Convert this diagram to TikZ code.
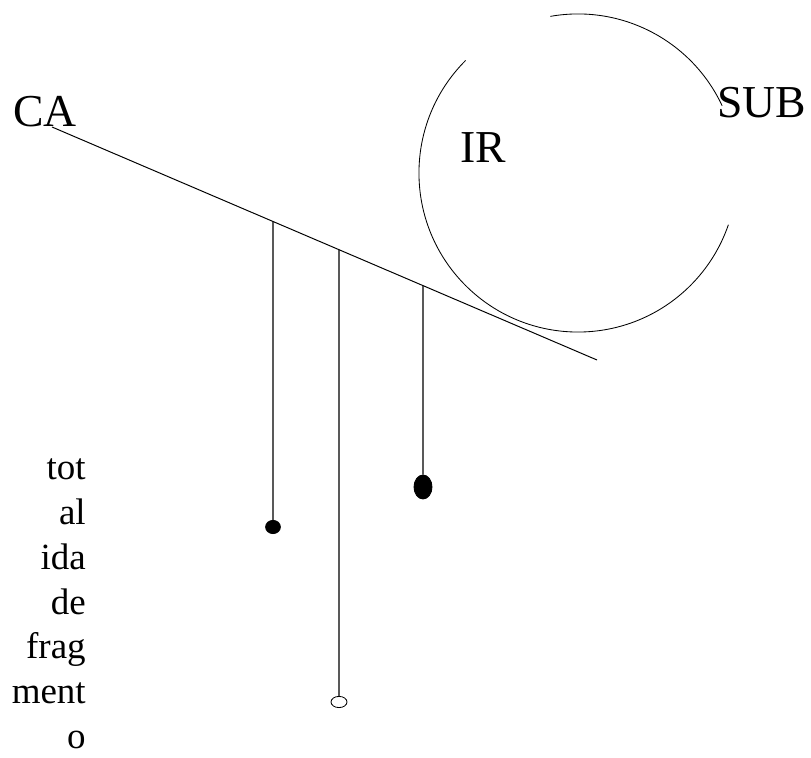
\documentclass[tikz,border=0pt]{standalone}
\usepackage{fontspec}
\setmainfont{Liberation Serif}
\usetikzlibrary{shapes.geometric,calc,positioning}

\begin{document}
\begin{tikzpicture}[
    x=0.025cm, y=0.025cm,
    every node/.style={inner sep=0pt},
    label/.style={
        anchor=base,
        font=\fontsize{32.5}{38}\selectfont
    },
    stack/.style={
        anchor=base east,
        font=\fontsize{26.3}{30}\selectfont
    },
    dot/.style={
        draw, ellipse, fill=black,
        line width=0.6pt
    },
    opendot/.style={
        draw, ellipse, fill=white,
        line width=0.6pt
    },
    stem/.style={line width=0.9pt},
    axis/.style={line width=0.7pt}
]
\useasboundingbox (0,0) rectangle (811,758);

%% ── Labels ────────────────────────────────────────────
\node[label] (ca) at (45,631) {CA};
\node[label] (ir) at (483,595) {IR};
\node[label] (sub) at (762,640) {SUB};

%% ── Main slanted line ─────────────────────────────────
\coordinate (ca0) at (52,631);
\coordinate (ca1) at (597,398);
\draw[axis] (ca0) -- (ca1);

%% ── Broken circle ─────────────────────────────────────
\coordinate (ring) at (578,585);
\draw[line width=0.6pt] ([shift={(100:3.975cm)}]ring)
    arc[start angle=100, end angle=25, radius=3.975cm];
\draw[line width=0.6pt] ([shift={(135:3.975cm)}]ring)
    arc[start angle=135, end angle=341, radius=3.975cm];

%% ── Stems with end dots ───────────────────────────────
\coordinate (j1) at ($(ca0)!0.4055!(ca1)$);
\coordinate (j2) at ($(ca0)!0.5266!(ca1)$);
\coordinate (j3) at ($(ca0)!0.6807!(ca1)$);

\node[dot, minimum width=0.37cm, minimum height=0.33cm] (d1) at (273,231) {};
\node[opendot, minimum width=0.4cm, minimum height=0.28cm] (d2) at (339,56) {};
\node[dot, minimum width=0.45cm, minimum height=0.6cm] (d3) at (423,271) {};

\draw[stem] (j1) -- (d1);
\draw[stem] (j2) -- (d2);
\draw[stem] (j3) -- (d3);

%% ── Vertical word stack ───────────────────────────────
\foreach \w [count=\i] in {tot,al,ida,de,frag,ment,o}{
    \node[stack] (w\i) at (86,{322.7-44.7*\i}) {\w};
}

\end{tikzpicture}
\end{document}
